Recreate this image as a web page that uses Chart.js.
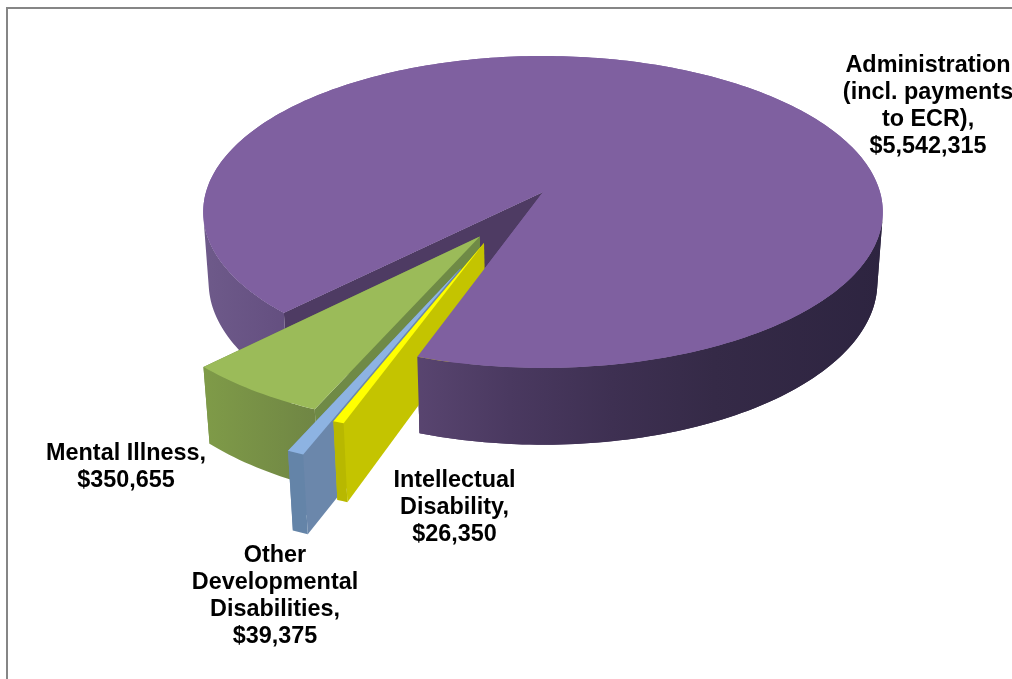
<!DOCTYPE html>
<html lang="en">
<head>
  <meta charset="UTF-8">
  <title>Spending by category</title>
  <script src="https://cdn.jsdelivr.net/npm/chart.js"></script>
  <style>
    body {
      margin: 0;
      background: #ffffff;
      overflow: hidden;
    }

    .frame {
      position: relative;
      width: 1012px;
      height: 679px;
    }

    .frame canvas {
      position: absolute;
      left: 0;
      top: 0;
    }

    .frame .edge {
      position: absolute;
      left: 6px;
      top: 7px;
      right: 0;
      bottom: 0;
      border-left: 2px solid #868686;
      border-top: 2px solid #868686;
    }
  </style>
</head>
<body>

  <div class="frame">
    <canvas id="graficoGastos" width="1012" height="679"></canvas>
    <div class="edge"></div>
  </div>

  <script>
    // Clockwise from the cut edge of the big slice
    const categories = [
      ['Administration', '(incl. payments', 'to ECR),'],
      ['Intellectual', 'Disability,'],
      ['Other', 'Developmental', 'Disabilities,'],
      ['Mental Illness,']
    ];
    const spending = [5542315, 26350, 39375, 350655];
    const topColors = ['#7f60a0', '#ffff00', '#8db3e2', '#9bbb59'];
    const cutFaceColors = ['#4e3b63', '#c4c400', '#6b87ab', '#6f8a46'];
    const explodePercent = [13.8, 21.5, 37.8, 19.5];
    const sideNudge = [0, -0.022, -0.016, 0];

    // Outer wall shading, left to right across each slice
    const wallShades = [
      [[0, '#6e5a8a'], [0.12, '#644f80'], [0.31, '#594570'], [0.45, '#4a3960'], [0.6, '#3e3052'], [0.75, '#352a47'], [1, '#2d2440']],
      [[0, '#b8b800'], [1, '#b8b800']],
      [[0, '#6484a8'], [1, '#6484a8']],
      [[0, '#7f9b48'], [1, '#6f8544']]
    ];

    // Centre of each text block and its first line, in canvas pixels
    const labelSpots = [[928, 66], [454.5, 481], [275, 556], [126, 454]];
    const lineStep = 26.7;

    // Camera used to lay the flat pie down into 3D
    const view = { cx: 543, cy: 192, radius: 337, tilt: 153.4, near: 0.128, depth: 71, fall: 0.016 };

    function project(u, v, d) {
      const w = 1 - view.near * v + view.fall * d;
      return {
        x: view.cx + view.radius * u / w,
        y: view.cy + (view.tilt * v + view.depth * d) / w
      };
    }

    function tracePath(ctx, points) {
      ctx.beginPath();
      points.forEach((p, i) => i ? ctx.lineTo(p.x, p.y) : ctx.moveTo(p.x, p.y));
      ctx.closePath();
    }

    function rimPoints(slice, from, to, d) {
      const steps = Math.max(2, Math.ceil(Math.abs(to - from) / 0.02));
      const points = [];
      for (let i = 0; i <= steps; i++) {
        const a = from + (to - from) * i / steps;
        points.push(project(slice.ox + Math.cos(a), slice.oy + Math.sin(a), d));
      }
      return points;
    }

    function drawWall(ctx, slice, from, to) {
      const top = rimPoints(slice, from, to, 0);
      const bottom = rimPoints(slice, from, to, 1);
      const xs = top.concat(bottom).map(p => p.x);
      const x0 = slice.index === 0 ? view.cx - 339 : Math.min(...xs);
      const x1 = slice.index === 0 ? view.cx + 341 : Math.max(...xs);
      const gradient = ctx.createLinearGradient(x0, 0, x1, 0);
      wallShades[slice.index].forEach(stop => gradient.addColorStop(stop[0], stop[1]));
      ctx.fillStyle = gradient;

      // One path of the quads that face the viewer
      ctx.beginPath();
      for (let i = 0; i < top.length - 1; i++) {
        const q = [top[i], top[i + 1], bottom[i + 1], bottom[i]];
        let area = 0;
        q.forEach((p, k) => {
          const n = q[(k + 1) % 4];
          area += p.x * n.y - n.x * p.y;
        });
        if (area >= 0) continue;
        ctx.moveTo(q[0].x, q[0].y);
        ctx.lineTo(q[1].x, q[1].y);
        ctx.lineTo(q[2].x, q[2].y);
        ctx.lineTo(q[3].x, q[3].y);
        ctx.closePath();
      }
      ctx.fill();
    }

    function drawCutFace(ctx, slice, angle) {
      const ox = slice.ox, oy = slice.oy;
      const ex = ox + Math.cos(angle), ey = oy + Math.sin(angle);
      ctx.fillStyle = cutFaceColors[slice.index];
      tracePath(ctx, [project(ox, oy, 0), project(ex, ey, 0), project(ex, ey, 1), project(ox, oy, 1)]);
      ctx.fill();
    }

    function drawTop(ctx, slice) {
      ctx.fillStyle = topColors[slice.index];
      tracePath(ctx, [project(slice.ox, slice.oy, 0)].concat(rimPoints(slice, slice.start, slice.end, 0)));
      ctx.fill();
    }

    function drawSolid(ctx, slice) {
      drawCutFace(ctx, slice, slice.end);
      drawCutFace(ctx, slice, slice.start);
      drawWall(ctx, slice, slice.start, slice.end);
      drawTop(ctx, slice);
    }

    // Replaces the flat arcs: angles and offsets come from the pie's own elements
    const pie3d = {
      id: 'pie3d',
      beforeDatasetsDraw(chart) {
        const ctx = chart.ctx;
        const arcs = chart.getDatasetMeta(0).data;
        const slices = arcs.map((arc, index) => {
          const props = arc.getProps(['startAngle', 'endAngle'], true);
          const mid = (props.startAngle + props.endAngle) / 2;
          const share = arc.options.offset / 100;
          return { index, start: props.startAngle, end: props.endAngle, ox: share * Math.cos(mid), oy: share * Math.sin(mid) };
        });

        // The projection is centred on the tip of the big slice
        const shiftX = slices[0].ox, shiftY = slices[0].oy;
        slices.forEach(s => {
          s.ox += sideNudge[s.index] - shiftX;
          s.oy -= shiftY;
        });

        const big = slices[0];
        drawSolid(ctx, big);
        drawSolid(ctx, slices[3]);
        drawSolid(ctx, slices[2]);
        drawSolid(ctx, slices[1]);

        // Near side of the big slice sits in front of the small ones
        drawWall(ctx, big, big.end - 2.1, big.end);
        drawTop(ctx, big);

        return false;
      },
      afterDraw(chart) {
        const ctx = chart.ctx;
        ctx.save();
        ctx.font = 'bold 23.4px "Liberation Sans", Arial, sans-serif';
        ctx.fillStyle = '#000000';
        ctx.textAlign = 'center';
        ctx.textBaseline = 'middle';
        categories.forEach((lines, i) => {
          const amount = '$' + spending[i].toLocaleString('en-US');
          lines.concat(amount).forEach((line, row) => {
            ctx.fillText(line, labelSpots[i][0], labelSpots[i][1] + row * lineStep);
          });
        });
        ctx.restore();
      }
    };

    new Chart(document.getElementById('graficoGastos'), {
      type: 'pie',
      data: {
        labels: categories.map(lines => lines.join(' ')),
        datasets: [{
          data: spending,
          backgroundColor: topColors,
          offset: explodePercent,
          borderWidth: 0
        }]
      },
      options: {
        responsive: false,
        animation: false,
        rotation: 224.3,
        plugins: {
          legend: { display: false },
          tooltip: { enabled: false }
        }
      },
      plugins: [pie3d]
    });
  </script>

</body>
</html>
